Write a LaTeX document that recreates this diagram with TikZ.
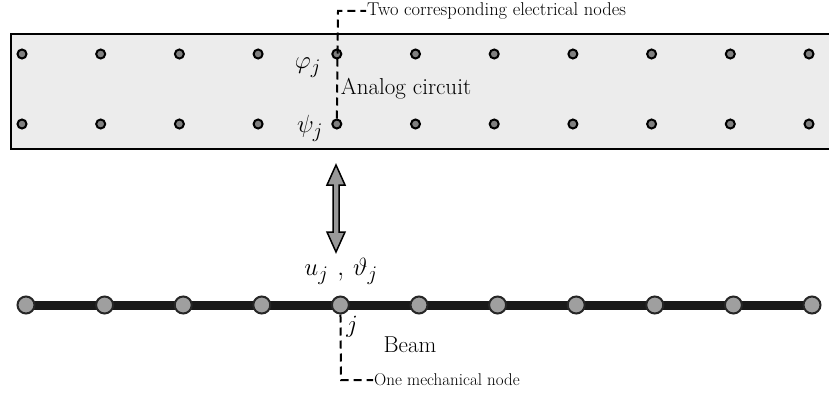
\documentclass[tikz,border=0pt]{standalone}
\usetikzlibrary{positioning,backgrounds}
\tikzset{
  enode/.style={circle, draw, line width=2, fill=gray, inner sep=0pt, minimum size=9},
  mnode/.style={circle, draw=black!85, line width=2, fill=gray!75, inner sep=0pt, minimum size=17},
  lead/.style={line width=2, dash pattern=on 8pt off 5pt},
  bigtext/.style={font=\fontsize{23}{26}\selectfont},
  smalltext/.style={font=\fontsize{18.5}{20}\selectfont, inner sep=1pt},
  mathlabel/.style={font=\fontsize{29}{32}\selectfont},
}
\begin{document}
\begin{tikzpicture}[x=1pt, y=-1pt]
    \useasboundingbox (0,0) rectangle (829,396);

    % analog circuit
    \fill[gray!15] (11,34) rectangle (829,149);
    \draw[line width=2.5] (829,34) -- (11,34) -- (11,149) -- (829,149);
    \foreach \i in {0,...,10} {
        \node[enode] (phi\i) at (22+78.7*\i,54) {};
        \node[enode] (psi\i) at (22+78.7*\i,124) {};
    }
    \node[bigtext] (cir) at (406,89) {Analog circuit};
    \node[mathlabel] (phi) at (308,68) {\(\varphi_j\)};
    \node[mathlabel] (psi) at (310,128) {\(\psi_j\)};

    % beam
    \foreach \i in {0,...,10}
        \node[mnode] (n\i) at (26+78.6*\i,305) {};
    \begin{scope}[on background layer]
        \draw[line width=9, black!90] (n0.center) -- (n10.center);
    \end{scope}
    \node[mathlabel] (dof) at (341,271) {\(u_j\) , \(\vartheta_j\)};
    \node[mathlabel] (j) at (352,327) {\(j\)};
    \node[bigtext] (beam) at (410,345) {Beam};

    % coupling
    \draw[line width=1.5, fill=gray!80] (336,165) -- (345,185) -- (339,185) -- (339,232)
        -- (345,232) -- (336,252) -- (327,232) -- (333,232) -- (333,185) -- (327,185) -- cycle;

    % leaders
    \node[smalltext, anchor=west] (two) at (366,11) {Two corresponding electrical nodes};
    \node[smalltext, anchor=west, font=\fontsize{17}{19}\selectfont] (one) at (373,380) {One mechanical node};
    \coordinate (tc) at (338,11);
    \coordinate (bc) at (341,380);
    \draw[lead] (psi4) -- (tc) -- (two);
    \draw[lead] (n4) -- (bc) -- (one);
\end{tikzpicture}
\end{document}
